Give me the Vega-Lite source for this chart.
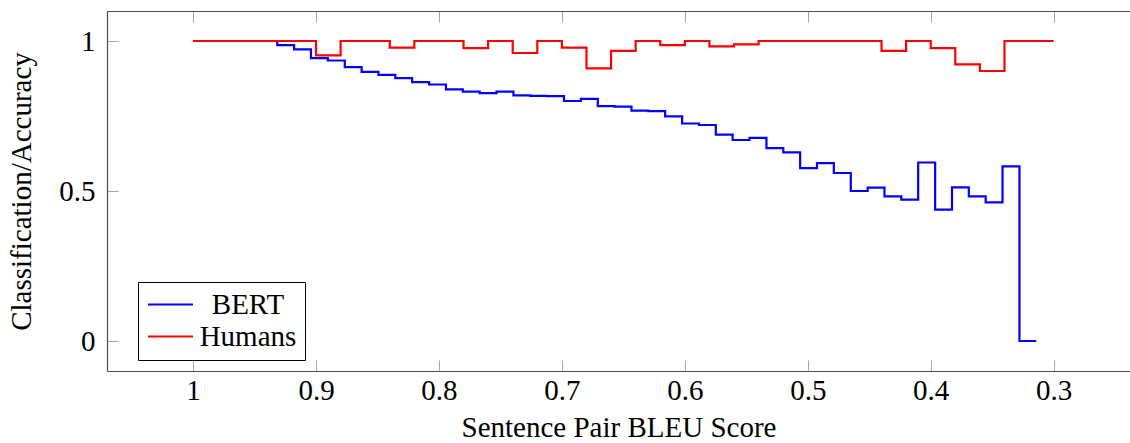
{
  "$schema": "https://vega.github.io/schema/vega-lite/v6.json",
  "width": 1023,
  "height": 360,
  "autosize": {"type": "none"},
  "padding": {"left": 107, "top": 11, "right": 0, "bottom": 72},
  "config": {
    "font": "Liberation Serif, Times New Roman, serif",
    "view": {"stroke": null},
    "axis": {
      "grid": false,
      "domainColor": "#4d4d4d",
      "domainWidth": 1.2,
      "tickColor": "#a6a6a6",
      "tickWidth": 1,
      "tickSize": -11,
      "labelFont": "Liberation Serif, Times New Roman, serif",
      "labelFontSize": 29,
      "labelColor": "#000000",
      "titleFont": "Liberation Serif, Times New Roman, serif",
      "titleFontSize": 29,
      "titleFontWeight": "normal",
      "titleColor": "#000000"
    },
    "legend": {
      "labelFont": "Liberation Serif, Times New Roman, serif"
    }
  },
  "datasets": {
    "curves": [
      {"series": "BERT", "bleu": 0.9864, "acc": 1},
      {"series": "BERT", "bleu": 0.9727, "acc": 1},
      {"series": "BERT", "bleu": 0.9590, "acc": 1},
      {"series": "BERT", "bleu": 0.9452, "acc": 1},
      {"series": "BERT", "bleu": 0.9315, "acc": 0.986},
      {"series": "BERT", "bleu": 0.9178, "acc": 0.972},
      {"series": "BERT", "bleu": 0.9041, "acc": 0.943},
      {"series": "BERT", "bleu": 0.8904, "acc": 0.935},
      {"series": "BERT", "bleu": 0.8766, "acc": 0.913},
      {"series": "BERT", "bleu": 0.8629, "acc": 0.897},
      {"series": "BERT", "bleu": 0.8492, "acc": 0.887},
      {"series": "BERT", "bleu": 0.8355, "acc": 0.876},
      {"series": "BERT", "bleu": 0.8218, "acc": 0.863},
      {"series": "BERT", "bleu": 0.8080, "acc": 0.855},
      {"series": "BERT", "bleu": 0.7943, "acc": 0.839},
      {"series": "BERT", "bleu": 0.7806, "acc": 0.831},
      {"series": "BERT", "bleu": 0.7669, "acc": 0.826},
      {"series": "BERT", "bleu": 0.7532, "acc": 0.831},
      {"series": "BERT", "bleu": 0.7394, "acc": 0.819},
      {"series": "BERT", "bleu": 0.7257, "acc": 0.817},
      {"series": "BERT", "bleu": 0.7120, "acc": 0.816},
      {"series": "BERT", "bleu": 0.6983, "acc": 0.800},
      {"series": "BERT", "bleu": 0.6846, "acc": 0.807},
      {"series": "BERT", "bleu": 0.6708, "acc": 0.783},
      {"series": "BERT", "bleu": 0.6571, "acc": 0.781},
      {"series": "BERT", "bleu": 0.6434, "acc": 0.768},
      {"series": "BERT", "bleu": 0.6297, "acc": 0.766},
      {"series": "BERT", "bleu": 0.6160, "acc": 0.749},
      {"series": "BERT", "bleu": 0.6022, "acc": 0.725},
      {"series": "BERT", "bleu": 0.5885, "acc": 0.720},
      {"series": "BERT", "bleu": 0.5748, "acc": 0.688},
      {"series": "BERT", "bleu": 0.5611, "acc": 0.670},
      {"series": "BERT", "bleu": 0.5474, "acc": 0.677},
      {"series": "BERT", "bleu": 0.5336, "acc": 0.643},
      {"series": "BERT", "bleu": 0.5199, "acc": 0.629},
      {"series": "BERT", "bleu": 0.5062, "acc": 0.576},
      {"series": "BERT", "bleu": 0.4925, "acc": 0.593},
      {"series": "BERT", "bleu": 0.4788, "acc": 0.560},
      {"series": "BERT", "bleu": 0.4650, "acc": 0.500},
      {"series": "BERT", "bleu": 0.4513, "acc": 0.511},
      {"series": "BERT", "bleu": 0.4376, "acc": 0.482},
      {"series": "BERT", "bleu": 0.4239, "acc": 0.471},
      {"series": "BERT", "bleu": 0.4102, "acc": 0.595},
      {"series": "BERT", "bleu": 0.3964, "acc": 0.438},
      {"series": "BERT", "bleu": 0.3827, "acc": 0.512},
      {"series": "BERT", "bleu": 0.3690, "acc": 0.482},
      {"series": "BERT", "bleu": 0.3553, "acc": 0.462},
      {"series": "BERT", "bleu": 0.3416, "acc": 0.582},
      {"series": "BERT", "bleu": 0.3278, "acc": 0},
      {"series": "BERT", "bleu": 0.3141, "acc": 0},
      {"series": "Humans", "bleu": 1.00, "acc": 1},
      {"series": "Humans", "bleu": 0.98, "acc": 1},
      {"series": "Humans", "bleu": 0.96, "acc": 1},
      {"series": "Humans", "bleu": 0.94, "acc": 1},
      {"series": "Humans", "bleu": 0.92, "acc": 1},
      {"series": "Humans", "bleu": 0.90, "acc": 0.952},
      {"series": "Humans", "bleu": 0.88, "acc": 1},
      {"series": "Humans", "bleu": 0.86, "acc": 1},
      {"series": "Humans", "bleu": 0.84, "acc": 0.978},
      {"series": "Humans", "bleu": 0.82, "acc": 1},
      {"series": "Humans", "bleu": 0.80, "acc": 1},
      {"series": "Humans", "bleu": 0.78, "acc": 0.976},
      {"series": "Humans", "bleu": 0.76, "acc": 1},
      {"series": "Humans", "bleu": 0.74, "acc": 0.96},
      {"series": "Humans", "bleu": 0.72, "acc": 1},
      {"series": "Humans", "bleu": 0.70, "acc": 0.978},
      {"series": "Humans", "bleu": 0.68, "acc": 0.909},
      {"series": "Humans", "bleu": 0.66, "acc": 0.967},
      {"series": "Humans", "bleu": 0.64, "acc": 1},
      {"series": "Humans", "bleu": 0.62, "acc": 0.986},
      {"series": "Humans", "bleu": 0.60, "acc": 1},
      {"series": "Humans", "bleu": 0.58, "acc": 0.982},
      {"series": "Humans", "bleu": 0.56, "acc": 0.989},
      {"series": "Humans", "bleu": 0.54, "acc": 1},
      {"series": "Humans", "bleu": 0.52, "acc": 1},
      {"series": "Humans", "bleu": 0.50, "acc": 1},
      {"series": "Humans", "bleu": 0.48, "acc": 1},
      {"series": "Humans", "bleu": 0.46, "acc": 1},
      {"series": "Humans", "bleu": 0.44, "acc": 0.967},
      {"series": "Humans", "bleu": 0.42, "acc": 1},
      {"series": "Humans", "bleu": 0.40, "acc": 0.976},
      {"series": "Humans", "bleu": 0.38, "acc": 0.922},
      {"series": "Humans", "bleu": 0.36, "acc": 0.9},
      {"series": "Humans", "bleu": 0.34, "acc": 1},
      {"series": "Humans", "bleu": 0.32, "acc": 1},
      {"series": "Humans", "bleu": 0.30, "acc": 1}
    ]
  },
  "data": {"name": "curves"},
  "layer": [
    {
      "mark": {"type": "line", "interpolate": "step-after", "strokeWidth": 2.2},
      "encoding": {
        "x": {
          "field": "bleu",
          "type": "quantitative",
          "scale": {"domain": [0.2379, 1.07], "reverse": true, "nice": false, "zero": false},
          "axis": {
            "orient": "bottom",
            "values": [1, 0.9, 0.8, 0.7, 0.6, 0.5, 0.4, 0.3],
            "labelExpr": "datum.value",
            "labelPadding": 16,
            "title": "Sentence Pair BLEU Score",
            "titlePadding": 8
          }
        },
        "y": {
          "field": "acc",
          "type": "quantitative",
          "scale": {"domain": [-0.1, 1.1], "nice": false, "zero": false},
          "axis": {
            "orient": "left",
            "values": [0, 0.5, 1],
            "labelExpr": "datum.value",
            "labelPadding": 23,
            "title": "Classification/Accuracy",
            "titlePadding": 22
          }
        },
        "color": {
          "field": "series",
          "type": "nominal",
          "scale": {"domain": ["BERT", "Humans"], "range": ["#0000ff", "#ff0000"]},
          "legend": {
            "title": null,
            "orient": "none",
            "legendX": 31,
            "legendY": 271,
            "fillColor": "#ffffff",
            "strokeColor": "#000000",
            "padding": 8,
            "symbolType": "M-1.25,0H3.25",
            "symbolSize": 400,
            "symbolStrokeWidth": 2,
            "symbolFillColor": "transparent",
            "labelFontSize": 29,
            "labelColor": "#000000",
            "labelAlign": "center",
            "labelOffset": 73,
            "rowPadding": 2
          }
        },
        "order": {"field": "bleu", "sort": "descending"}
      }
    },
    {
      "mark": {"type": "point", "opacity": 0},
      "encoding": {
        "x": {
          "field": "bleu",
          "type": "quantitative",
          "scale": {"domain": [0.2379, 1.07], "reverse": true, "nice": false, "zero": false},
          "axis": {
            "orient": "top",
            "values": [1, 0.9, 0.8, 0.7, 0.6, 0.5, 0.4, 0.3],
            "labels": false,
            "title": null
          }
        },
        "y": {
          "field": "acc",
          "type": "quantitative",
          "scale": {"domain": [-0.1, 1.1], "nice": false, "zero": false},
          "axis": null
        }
      }
    }
  ],
  "resolve": {"axis": {"x": "independent", "y": "independent"}}
}
